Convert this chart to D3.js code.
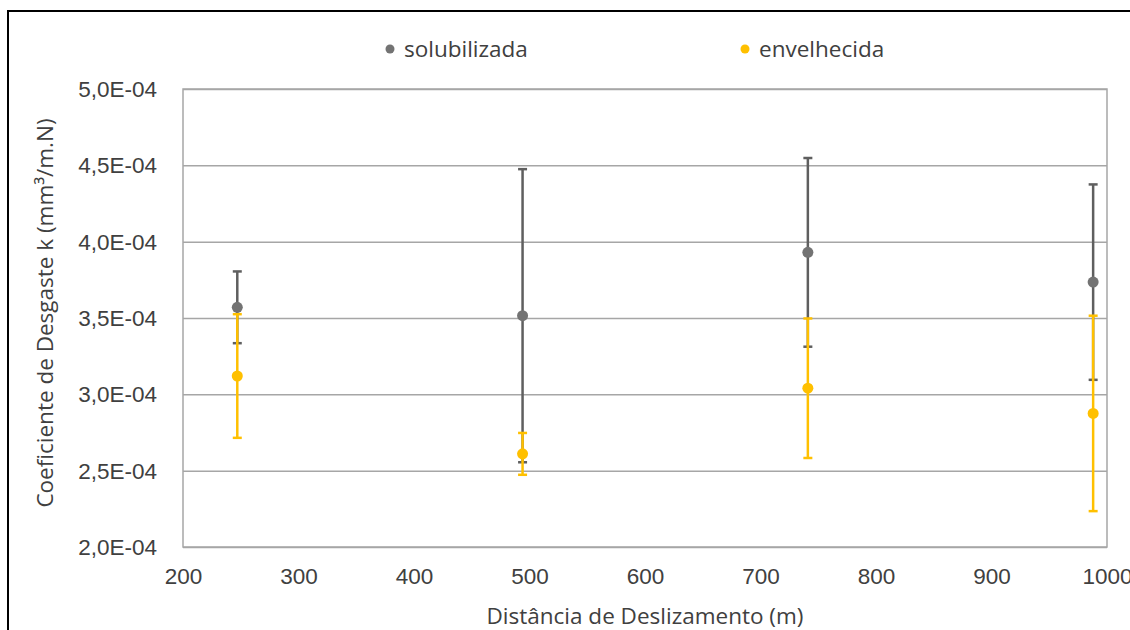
<!DOCTYPE html>
<html>
<head>
<meta charset="utf-8">
<script src="https://cdn.jsdelivr.net/npm/d3@7"></script>
<style>
  html, body { margin: 0; padding: 0; background: #fff; }
  svg { display: block; font-family: "Open Sans", "Noto Sans", sans-serif; }
</style>
</head>
<body>
<svg id="chart" width="1130" height="630"></svg>
<script>
// Sliding distance (m) of each test
const distances = [247, 494, 741, 988];

// Wear coefficient k (mm³/m.N) and its deviation, per condition
const solubilizada = [3.57e-4, 3.515e-4, 3.93e-4, 3.735e-4];
const solubilizadaErr = [0.235e-4, 0.96e-4, 0.618e-4, 0.64e-4];
const envelhecida = [3.12e-4, 2.61e-4, 3.04e-4, 2.875e-4];
const envelhecidaErr = [0.405e-4, 0.137e-4, 0.457e-4, 0.64e-4];

const xTicks = [200, 300, 400, 500, 600, 700, 800, 900, 1000];
const yTicks = [2.0e-4, 2.5e-4, 3.0e-4, 3.5e-4, 4.0e-4, 4.5e-4, 5.0e-4];

const seriesNames = ["solubilizada", "envelhecida"];

const svg = d3.select("#chart");

const plot = { left: 183, right: 1107, top: 89, bottom: 547 };
const fontSize = 22.5;
const textColor = "#404040";

const x = d3.scaleLinear().domain([200, 1000]).range([plot.left, plot.right]);
const y = d3.scaleLinear().domain([2.0e-4, 5.0e-4]).range([plot.bottom, plot.top]);

const fmtY = v => v.toExponential(1).replace(".", ",").replace(/e([+-])(\d+)$/, (m, s, d) => "E" + s + d.padStart(2, "0"));

// outer chart frame
svg.append("rect")
  .attr("x", 8).attr("y", 11)
  .attr("width", 1140).attr("height", 640)
  .attr("fill", "none").attr("stroke", "#000").attr("stroke-width", 2);

// horizontal gridlines
const yAxis = d3.axisLeft(y).tickValues(yTicks).tickSize(-(plot.right - plot.left)).tickPadding(26).tickFormat(fmtY);
const gy = svg.append("g").attr("transform", `translate(${plot.left},0)`).call(yAxis);
gy.select(".domain").remove();
gy.selectAll(".tick line").attr("stroke", "#a6a6a6").attr("stroke-width", 1.5);
gy.selectAll(".tick text")
  .attr("fill", textColor).attr("font-size", fontSize).attr("dy", "0.34em");

// plot area border
svg.append("rect")
  .attr("x", plot.left).attr("y", plot.top)
  .attr("width", plot.right - plot.left).attr("height", plot.bottom - plot.top)
  .attr("fill", "none").attr("stroke", "#a6a6a6").attr("stroke-width", 1.5);

// x axis labels (no tick marks)
const xAxis = d3.axisBottom(x).tickValues(xTicks).tickSize(0).tickPadding(21).tickFormat(d3.format("d"));
const gx = svg.append("g").attr("transform", `translate(0,${plot.bottom})`).call(xAxis);
gx.select(".domain").remove();
gx.selectAll(".tick text").attr("fill", textColor).attr("font-size", fontSize);

// axis titles
svg.append("text")
  .attr("x", 645).attr("y", 624)
  .attr("text-anchor", "middle").attr("font-size", fontSize).attr("fill", textColor)
  .text("Distância de Deslizamento (m)");

svg.append("text")
  .attr("transform", "translate(53,313) rotate(-90)")
  .attr("text-anchor", "middle").attr("font-size", fontSize).attr("fill", textColor)
  .text("Coeficiente de Desgaste k (mm³/m.N)");

// series
const series = [
  { name: seriesNames[0], values: solubilizada, err: solubilizadaErr, dot: "#737373", bar: "#5f5f5f" },
  { name: seriesNames[1], values: envelhecida, err: envelhecidaErr, dot: "#ffc000", bar: "#ffc000" }
];

const capHalf = 4.5;

series.forEach(s => {
  const rows = distances.map((d, i) => ({ d, v: s.values[i], e: s.err[i] }));
  const g = svg.append("g");
  // vertical error bar
  g.selectAll("line.bar").data(rows).join("line")
    .attr("x1", r => x(r.d)).attr("x2", r => x(r.d))
    .attr("y1", r => y(r.v + r.e)).attr("y2", r => y(r.v - r.e))
    .attr("stroke", s.bar).attr("stroke-width", 2.5);
  // caps
  ["+", "-"].forEach(sign => {
    g.selectAll(`line.cap${sign === "+" ? "u" : "l"}`).data(rows).join("line")
      .attr("x1", r => x(r.d) - capHalf).attr("x2", r => x(r.d) + capHalf)
      .attr("y1", r => y(sign === "+" ? r.v + r.e : r.v - r.e))
      .attr("y2", r => y(sign === "+" ? r.v + r.e : r.v - r.e))
      .attr("stroke", s.bar).attr("stroke-width", 2.5);
  });
  // markers
  g.selectAll("circle").data(rows).join("circle")
    .attr("cx", r => x(r.d)).attr("cy", r => y(r.v)).attr("r", 5.5)
    .attr("fill", s.dot);
});

// legend
const legendPos = [{ x: 390 }, { x: 745 }];
series.forEach((s, i) => {
  const lg = svg.append("g").attr("transform", `translate(${legendPos[i].x},49)`);
  lg.append("circle").attr("r", 4.5).attr("fill", s.dot);
  lg.append("text").attr("x", 14).attr("y", 0).attr("dy", "0.35em")
    .attr("font-size", fontSize).attr("fill", textColor).text(s.name);
});
</script>
</body>
</html>
